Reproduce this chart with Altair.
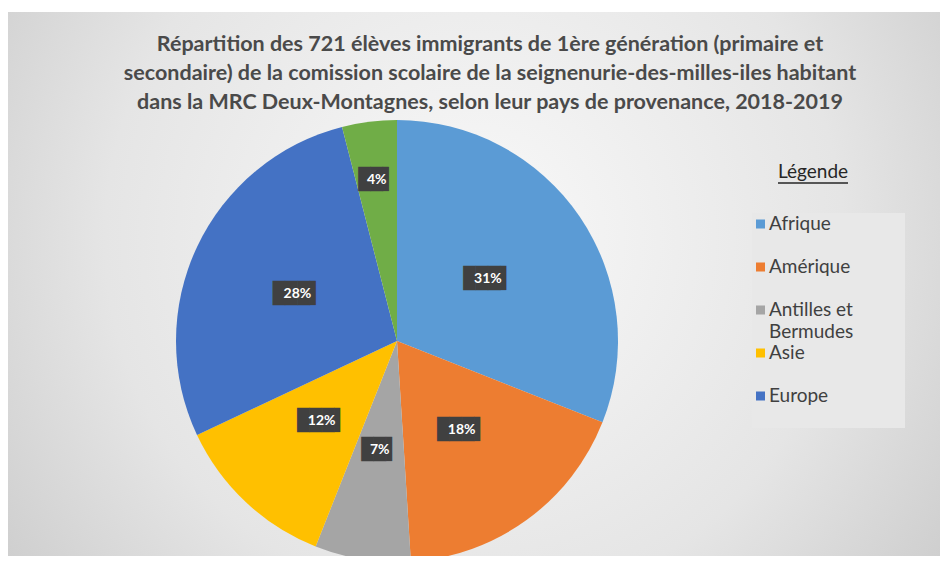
import altair as alt
import pandas as pd

# ---- data ----
categories = ["Afrique", "Amérique", "Antilles et Bermudes", "Asie", "Europe", "Océanie"]
percents = [31, 18, 7, 12, 28, 4]
colors = ["#5B9BD5", "#ED7D31", "#A5A5A5", "#FFC000", "#4472C4", "#70AD47"]
legend_entries = ["Afrique", "Amérique", "Antilles et Bermudes", "Asie", "Europe"]
legend_texts = ["Afrique", "Amérique", "Antilles et\nBermudes", "Asie", "Europe"]
title_lines = [
    "Répartition des 721 élèves immigrants de 1ère génération (primaire et",
    "secondaire) de la comission scolaire de la seignenurie-des-milles-iles habitant",
    "dans la MRC Deux-Montagnes, selon leur pays de provenance,  2018-2019",
]
legend_title = "Légende"

df = pd.DataFrame({"pays": categories, "pct": percents, "ordre": list(range(len(categories)))})
df["label"] = df["pct"].astype(str) + "%"
leg = pd.DataFrame({"pays": legend_entries, "texte": legend_texts})

W, H = 932, 548
CX, CY, R = 389, 333, 221
color_scale = alt.Scale(domain=categories, range=colors)
one = alt.Data(values=[{}])

background = alt.Chart(one).mark_rect(
    fill=alt.RadialGradient(
        gradient="radial",
        stops=[alt.GradientStop(color="#f9f9f9", offset=0),
               alt.GradientStop(color="#e5e5e5", offset=0.55),
               alt.GradientStop(color="#c3c3c3", offset=1)],
        x1=0.5, y1=0.45, x2=0.5, y2=0.45, r1=0, r2=0.72,
    )
).encode(x=alt.value(0), x2=alt.value(W), y=alt.value(4), y2=alt.value(H))

title = alt.Chart(one).mark_text(
    text=title_lines, font="Lato", fontSize=21.5, fontWeight="bold", color="#4a4a4a",
    align="center", baseline="middle", lineHeight=29,
).encode(x=alt.value(482), y=alt.value(37))

pie = alt.Chart(df).mark_arc(outerRadius=R, strokeWidth=0).encode(
    theta=alt.Theta("pct:Q", stack=True),
    color=alt.Color("pays:N", scale=color_scale, legend=None),
    order=alt.Order("ordre:Q"),
    x=alt.value(CX), y=alt.value(CY),
)

lab = alt.Chart(df).transform_stack(
    stack="pct", groupby=[], as_=["t0", "t1"], sort=[alt.SortField("ordre")]
).transform_calculate(
    tmid="(datum.t0 + datum.t1) / 2",
    box="pad('', length(datum.label), '█') + '▌'",
)
theta_mid = alt.Theta("tmid:Q", scale=alt.Scale(domain=[0, 100]))


def label_layers(cond, radius):
    base = lab.transform_filter(cond)
    box = base.mark_text(font="DejaVu Sans Mono", fontSize=20.5, color="#404040",
                         radius=radius, baseline="middle", align="center").encode(
        theta=theta_mid, text="box:N", x=alt.value(CX), y=alt.value(CY))
    txt = base.mark_text(font="Lato", fontSize=14, fontWeight="bold", color="white",
                         radius=radius, baseline="middle", align="center").encode(
        theta=theta_mid, text="label:N", x=alt.value(CX), y=alt.value(CY))
    return [box, txt]


big = label_layers("datum.pct >= 5", 110)
small = label_layers("datum.pct < 5", 162)

legend_box = alt.Chart(one).mark_rect(fill="#e8e8e8").encode(
    x=alt.value(744), x2=alt.value(897), y=alt.value(205), y2=alt.value(420))

legend_head = alt.Chart(one).mark_text(
    text=legend_title, font="Lato", fontSize=19, color="#262626",
    align="center", baseline="middle").encode(x=alt.value(805), y=alt.value(164))
legend_line = alt.Chart(one).mark_rule(color="#262626", strokeWidth=1.5).encode(
    x=alt.value(770), x2=alt.value(840), y=alt.value(175))

ly = alt.Y("pays:N", scale=alt.Scale(type="point", domain=legend_entries, range=[216, 388], padding=0), axis=None)
legend_sym = alt.Chart(leg).mark_square(size=81, opacity=1).encode(
    y=ly, x=alt.value(752.5),
    color=alt.Color("pays:N", scale=color_scale, legend=None))
legend_txt = alt.Chart(leg).mark_text(
    font="Lato", fontSize=19, color="#404040", align="left", baseline="middle",
    lineBreak="\n", lineHeight=22).encode(y=ly, x=alt.value(761), text="texte:N")

chart = alt.layer(
    background, title, pie, *big, *small, legend_box, legend_head, legend_line, legend_sym, legend_txt
).resolve_scale(theta="independent").properties(
    width=W, height=H, autosize=alt.AutoSizeParams(type="none"), padding=0, background="white"
).configure_view(stroke=None)

chart.save("out.html", embed_options={"renderer": "svg", "actions": False})
